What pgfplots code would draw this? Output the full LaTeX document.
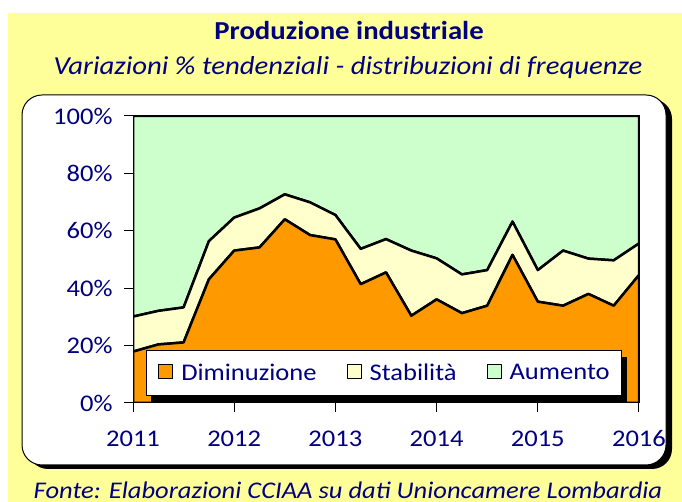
\documentclass[border=0pt]{standalone}
\usepackage{pgfplots}
\usepackage{pgfplotstable}
\pgfplotsset{compat=1.18}
\usetikzlibrary{shadows}
\usepackage{fontspec}
\setmainfont{Carlito}[FakeStretch=1.11]
\definecolor{bgyellow}{HTML}{FFFF99}
\definecolor{navy}{HTML}{000080}
\definecolor{dimc}{HTML}{FF9900}
\definecolor{stabc}{HTML}{FFFFCC}
\definecolor{aumc}{HTML}{CCFFCC}
\makeatletter
\tikzset{no preactions/.code={\let\tikz@preactions\pgfutil@empty}}
\makeatother
\pgfplotstableread{
t dim stab aum
2011.00 17.9 12.2 69.9
2011.25 20.4 11.7 67.9
2011.50 21.1 12.2 66.7
2011.75 43.1 13.3 43.6
2012.00 53.1 11.5 35.4
2012.25 54.2 13.6 32.2
2012.50 64.0 8.7 27.3
2012.75 58.5 11.4 30.1
2013.00 57.0 8.5 34.5
2013.25 41.4 12.3 46.3
2013.50 45.5 11.6 42.9
2013.75 30.4 22.7 46.9
2014.00 36.1 14.3 49.6
2014.25 31.3 13.5 55.2
2014.50 33.9 12.4 53.7
2014.75 51.6 11.6 36.8
2015.00 35.3 11.0 53.7
2015.25 33.9 19.2 46.9
2015.50 38.0 12.3 49.7
2015.75 33.9 15.8 50.3
2016.00 44.6 11.0 44.4
}\datatab
\begin{document}
\begin{tikzpicture}[x=1bp,y=1bp]
\useasboundingbox (0,0) rectangle (682,502);
\fill[white] (0,0) rectangle (682,502);
\fill[bgyellow] (8,0) rectangle (682,489);
\fill[black, rounded corners=20bp] (28,33) rectangle (672,403);
\filldraw[fill=white, draw=black, line width=1bp, rounded corners=20bp] (22,37) rectangle (666,407);
\node[text=navy, font=\fontsize{26}{30}\selectfont\bfseries, anchor=base] at (349,462.5) {Produzione industriale};
\node[text=navy, font=\fontsize{26}{30}\selectfont\itshape, anchor=base] at (348,427) {Variazioni \% tendenziali - distribuzioni di frequenze};
\node[text=navy, font=\fontsize{24}{28}\selectfont\itshape, anchor=base] at (348,3) {Fonte: Elaborazioni CCIAA su dati Unioncamere Lombardia};
\begin{axis}[
  at={(133bp,99bp)}, anchor=south west,
  scale only axis, width=506bp, height=287bp,
  xmin=2011, xmax=2016, ymin=0, ymax=100,
  xtick={2011,2012,...,2016}, ytick={0,20,...,100},
  xtick pos=lower, ytick pos=left,
  tick align=outside, major tick length=9bp,
  tick style={black, line width=1bp},
  axis line style={black, line width=1bp},
  /pgf/number format/assume math mode=true,
  x tick label style={/pgf/number format/1000 sep={}, yshift=-15bp},
  y tick label style={xshift=-8bp},
  yticklabel={\pgfmathprintnumber{\tick}\%},
  tick label style={text=navy, font=\fontsize{24}{28}\selectfont},
  stack plots=y,
  axis on top,
  legend columns=3,
  legend cell align=left,
  legend style={at={(rel axis cs:0.0257,0.1847)}, anchor=north west,
    draw=black, line width=0.6bp, fill=white,
    font=\fontsize{24}{28}\selectfont, text=navy,
    inner xsep=12bp, inner ysep=11.5bp,
    nodes={inner xsep=0bp},
    /tikz/every odd column/.append style={column sep=8bp},
    /tikz/every even column/.append style={column sep=30bp},
    drop shadow={shadow xshift=5bp, shadow yshift=-7bp, fill=black, opacity=1}},
  legend image code/.code={\draw[no preactions, #1, draw=black, line width=1bp] (0bp,-6bp) rectangle (14bp,8bp);},
]
\addplot[fill=dimc, draw=black, line width=2.5bp, line join=round] table[x=t,y=dim] {\datatab} \closedcycle;
\addlegendentry{Diminuzione}
\addplot[fill=stabc, draw=black, line width=2.5bp, line join=round] table[x=t,y=stab] {\datatab} \closedcycle;
\addlegendentry{Stabilità}
\addplot[fill=aumc, draw=black, line width=2.5bp, line join=round] table[x=t,y=aum] {\datatab} \closedcycle;
\addlegendentry{Aumento}
\end{axis}
\end{tikzpicture}
\end{document}
